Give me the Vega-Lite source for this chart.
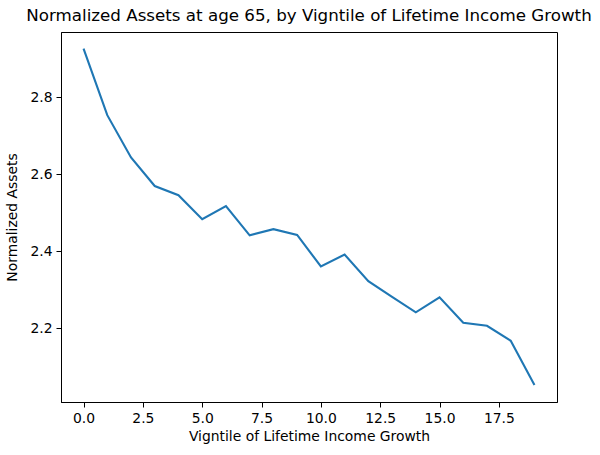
{
  "$schema": "https://vega.github.io/schema/vega-lite/v6.json",
  "autosize": "none",
  "width": 496,
  "height": 370,
  "padding": {"left": 61, "top": 32, "right": 43, "bottom": 53},
  "background": "white",
  "config": {
    "font": "DejaVu Sans",
    "view": {"stroke": "black", "strokeWidth": 1},
    "axis": {
      "grid": false,
      "domainColor": "black",
      "tickColor": "black",
      "tickSize": 5,
      "labelPadding": 4,
      "labelFontSize": 13.9,
      "labelColor": "black",
      "titleFontSize": 13.9,
      "titleFontWeight": "normal",
      "titleColor": "black",
      "labelFont": "DejaVu Sans",
      "titleFont": "DejaVu Sans"
    },
    "title": {"fontSize": 16.7, "fontWeight": "normal", "font": "DejaVu Sans", "color": "black"}
  },
  "title": {"text": "Normalized Assets at age 65, by Vigntile of Lifetime Income Growth", "anchor": "middle", "offset": 7},
  "data": {
    "values": [
      {"vigntile": 0, "assets": 2.927},
      {"vigntile": 1, "assets": 2.754},
      {"vigntile": 2, "assets": 2.644},
      {"vigntile": 3, "assets": 2.570},
      {"vigntile": 4, "assets": 2.546},
      {"vigntile": 5, "assets": 2.484},
      {"vigntile": 6, "assets": 2.518},
      {"vigntile": 7, "assets": 2.442},
      {"vigntile": 8, "assets": 2.458},
      {"vigntile": 9, "assets": 2.443},
      {"vigntile": 10, "assets": 2.361},
      {"vigntile": 11, "assets": 2.392},
      {"vigntile": 12, "assets": 2.323},
      {"vigntile": 13, "assets": 2.282},
      {"vigntile": 14, "assets": 2.242},
      {"vigntile": 15, "assets": 2.281},
      {"vigntile": 16, "assets": 2.215},
      {"vigntile": 17, "assets": 2.207},
      {"vigntile": 18, "assets": 2.168},
      {"vigntile": 19, "assets": 2.053}
    ]
  },
  "mark": {"type": "line", "color": "#1f77b4", "strokeWidth": 2.1},
  "encoding": {
    "x": {
      "field": "vigntile",
      "type": "quantitative",
      "scale": {"domain": [-0.95, 19.95], "nice": false, "zero": false},
      "axis": {"values": [0, 2.5, 5, 7.5, 10, 12.5, 15, 17.5], "format": ".1f", "title": "Vigntile of Lifetime Income Growth", "titlePadding": 5, "labelFlush": false}
    },
    "y": {
      "field": "assets",
      "type": "quantitative",
      "scale": {"domain": [2.009, 2.970], "nice": false, "zero": false},
      "axis": {"values": [2.2, 2.4, 2.6, 2.8], "format": ".1f", "title": "Normalized Assets", "titlePadding": 10}
    }
  }
}
